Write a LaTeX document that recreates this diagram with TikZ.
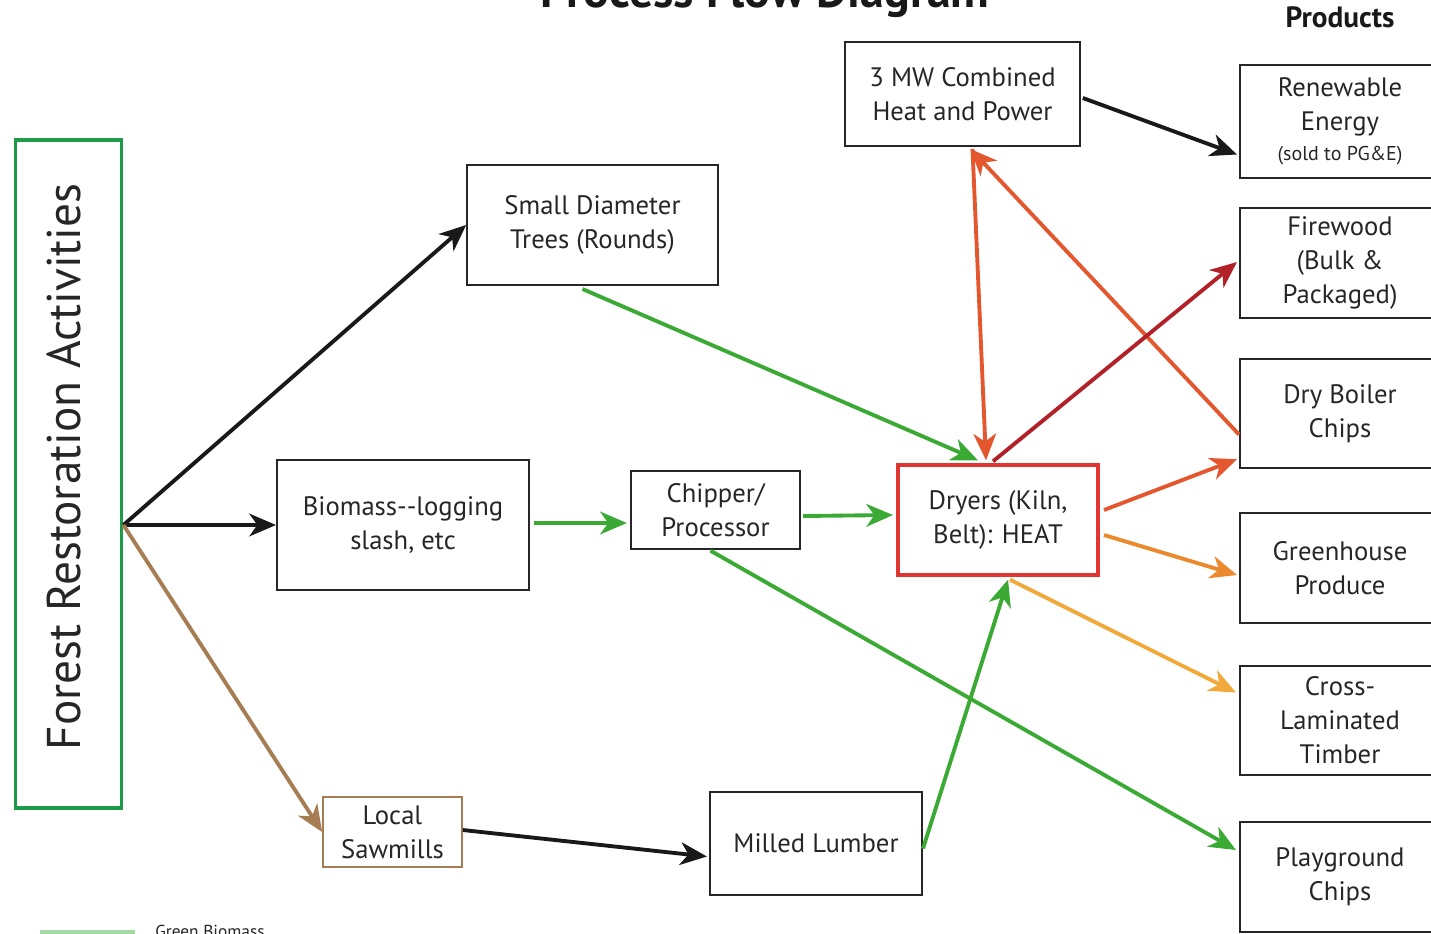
\documentclass[tikz,border=0pt]{standalone}
\usepackage{fontspec}
\setmainfont{PT Sans}
\usetikzlibrary{arrows.meta,calc}

\definecolor{fgreen}{RGB}{31,154,72}
\definecolor{agreen}{RGB}{58,170,53}
\definecolor{sawbrown}{RGB}{166,124,82}
\definecolor{heatred}{RGB}{228,87,46}
\definecolor{darkred}{RGB}{178,32,40}
\definecolor{heatorange}{RGB}{236,137,45}
\definecolor{lightorange}{RGB}{242,169,59}
\definecolor{boxred}{RGB}{226,52,48}

\tikzset{
  box/.style={draw=black!85, line width=1.5pt, align=center, inner sep=0pt,
    font=\fontsize{20}{25.5}\selectfont, text=black!85},
  prodbox/.style={box, minimum width=150pt, minimum height=82pt},
  flow/.style={line width=2.9pt, -{Stealth[length=20pt,width=17pt,inset=6pt]}},
}

\begin{document}
\begin{tikzpicture}[x=0.75pt,y=0.75pt,yscale=-1,xscale=1]
\useasboundingbox (0,0) rectangle (1431,933);

%Title
\node [anchor=base, font=\bfseries\fontsize{36}{40}\selectfont, text=black!90] (title) at (765,7) {Process Flow Diagram};
\node [anchor=base, font=\bfseries\fontsize{22}{26}\selectfont, text=black!90] (prodhead) at (1340,27) {Products};

%Shape: Rectangle [forest]
\node [box, draw=fgreen, line width=2.4pt, minimum width=80pt, minimum height=501pt] (forest) at (68.5,474) {};
\node [rotate=90, font=\fontsize{35.5}{40}\selectfont, text=black!85] (forestlbl) at ($(forest.center)+(-5,-7)$) {Forest Restoration Activities};

%Shape: Rectangle [sources]
\node [box, minimum width=188pt, minimum height=90pt] (sdt) at (592.5,225) {Small Diameter\\Trees (Rounds)};
\node [box, minimum width=189pt, minimum height=97pt] (bio) at (403,525) {Biomass{-}{-}logging\\slash, etc};
\node [box, minimum width=127pt, minimum height=58pt] (chip) at (715.5,510) {Chipper/\\Processor};
\node [box, draw=boxred, line width=3pt, minimum width=150pt, minimum height=82pt] (dry) at (998,520) {Dryers (Kiln,\\Belt): HEAT};
\node [box, minimum width=176pt, minimum height=78pt] (chp) at (962.5,94) {3 MW Combined\\Heat and Power};
\node [box, draw=sawbrown, minimum width=104pt, minimum height=52pt] (saw) at (392.5,832) {Local\\Sawmills};
\node [box, minimum width=159pt, minimum height=77pt] (mill) at (816,843.5) {Milled Lumber};

%Shape: Rectangle [products]
\node [prodbox, minimum height=85pt] (ren) at (1340,121.5) {Renewable\\Energy\\[-3pt]{\fontsize{15}{18}\selectfont(sold to PG\&E)}};
\node [prodbox] (fire) at (1340,263) {Firewood\\(Bulk \&\\Packaged)};
\node [prodbox] (dbc) at (1340,413.5) {Dry Boiler\\Chips};
\node [prodbox] (grn) at (1340,568) {Greenhouse\\Produce};
\node [prodbox] (clt) at (1340,720.5) {Cross-\\Laminated\\Timber};
\node [prodbox] (play) at (1340,877) {Playground\\Chips};

%Legend
\draw [agreen!45, line width=2.6pt] (40,932) -- (135,932);
\node [anchor=north west, inner sep=0pt, font=\fontsize{13}{15}\selectfont, text=black!85] (legend) at (155,925) {Green Biomass};

%Straight Lines [from forest]
\coordinate (root) at (forest.east |- bio.west);
\draw [flow, black!90] (root) -- (sdt.west);
\draw [flow, black!90] (root) -- (bio.west);
\draw [flow, sawbrown] (root) -- (saw.west);

%Straight Lines [green biomass]
\draw [flow, agreen] ($(sdt.south)+(-10,3)$) -- ($(dry.north)+(-20,-3)$);
\draw [flow, agreen] ($(bio.east)+(4,-2)$) -- ($(bio.east -| chip.west)+(-3,-2)$);
\draw [flow, agreen] ($(chip.east)+(2,6)$) -- ($(dry.west)+(-3,-5)$);
\draw [flow, agreen] ($(chip.south)+(-5,1)$) -- ($(play.west)+(-3,-27)$);
\draw [flow, agreen] ($(mill.east)+(0,5)$) -- ($(dry.south)+(10,3)$);

%Straight Lines [sawmill]
\draw [flow, black!90] ($(saw.east)+(0,-2)$) -- ($(mill.west)+(-2,13)$);

%Straight Lines [heat and power]
\draw [flow, heatred] ($(chp.south)+(10,2)$) -- ($(dry.north)+(-12,-3)$);
\draw [flow, heatred] ($(dbc.west)+(0,21)$) -- ($(chp.south)+(8,2)$);
\draw [flow, black!90] ($(chp.east)+(2,4)$) -- ($(ren.west)+(-2,33)$);

%Straight Lines [from dryers]
\draw [flow, darkred] ($(dry.north)+(-5,-2)$) -- ($(fire.west)+(-2,-1)$);
\draw [flow, heatred] ($(dry.east)+(4,-10)$) -- ($(dbc.south west)+(-2,-10)$);
\draw [flow, heatorange] ($(dry.east)+(4,15)$) -- ($(grn.west)+(-2,7)$);
\draw [flow, lightorange] ($(dry.south)+(12,3)$) -- ($(clt.west)+(-3,-28)$);

\end{tikzpicture}
\end{document}
